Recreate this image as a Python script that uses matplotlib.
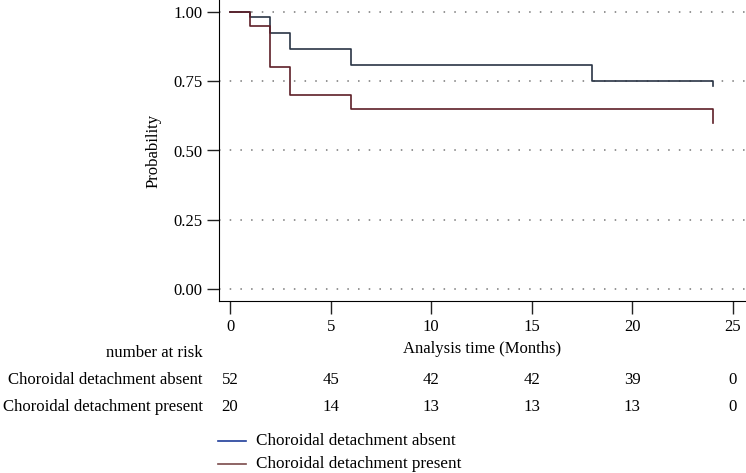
import numpy as np
import matplotlib.pyplot as plt

plt.rcParams['font.family'] = ['Liberation Serif', 'DejaVu Serif']

# Kaplan-Meier step data
t_absent = [0, 1, 2, 3, 6, 18, 24]
s_absent = [1.00, 0.981, 0.923, 0.865, 0.808, 0.750, 0.731]
t_present = [0, 1, 2, 3, 6, 24]
s_present = [1.00, 0.95, 0.80, 0.70, 0.65, 0.60]

risk_times = [0, 5, 10, 15, 20, 25]
risk_absent = [52, 45, 42, 42, 39, 0]
risk_present = [20, 14, 13, 13, 13, 0]

labels = ["Choroidal detachment absent", "Choroidal detachment present"]

fig = plt.figure(figsize=(7.46, 4.73), dpi=100)
ax = fig.add_axes([219/746, 1 - 301/473, 1 - 219/746, 301/473])

ax.step(t_absent, s_absent, where="post", color="#2a3545", lw=1.2)
ax.step(t_present, s_present, where="post", color="#5e1f28", lw=1.2)

ax.set_xlim(-0.55, 25.65)
ax.set_ylim(-0.043, 1.043)
ax.set_xticks(range(0, 26, 5))
ax.set_yticks([0, 0.25, 0.5, 0.75, 1.0])
ax.set_yticklabels(["0.00", "0.25", "0.50", "0.75", "1.00"])
ax.yaxis.grid(True, linestyle=(0, (1, 6)), color="#777777", lw=1.1)
ax.tick_params(labelsize=12, length=9, width=1, color="#222222")
ax.tick_params(axis="y", pad=3)
ax.tick_params(axis="x", pad=4)
for s in ["top", "right"]:
    ax.spines[s].set_visible(False)
ax.set_ylabel("Probability", fontsize=12, labelpad=8)
ax.set_xlabel("Analysis time (Months)", fontsize=12, labelpad=4)

# number at risk table
tr = ax.get_xaxis_transform()
fs = 12.1
fig.text(203/746, 1 - 353/473, "number at risk", ha="right", va="center", fontsize=fs)
fig.text(203/746, 1 - 380/473, labels[0], ha="right", va="center", fontsize=fs)
fig.text(203/746, 1 - 407/473, labels[1], ha="right", va="center", fontsize=fs)
for x, a, p in zip(risk_times, risk_absent, risk_present):
    ax.text(x, -(380 - 301) / 301, str(a), transform=tr, ha="center", va="center", fontsize=fs)
    ax.text(x, -(407 - 301) / 301, str(p), transform=tr, ha="center", va="center", fontsize=fs)

# legend
fig.add_artist(plt.Line2D([218/746, 246/746], [1 - 441/473] * 2, color="#1f3d99", lw=1.2))
fig.add_artist(plt.Line2D([218/746, 246/746], [1 - 464/473] * 2, color="#7a4a4a", lw=1.2))
fig.text(256/746, 1 - 441/473, labels[0], ha="left", va="center", fontsize=12.3)
fig.text(256/746, 1 - 464/473, labels[1], ha="left", va="center", fontsize=12.3)

fig.savefig("out.png", dpi=100)
